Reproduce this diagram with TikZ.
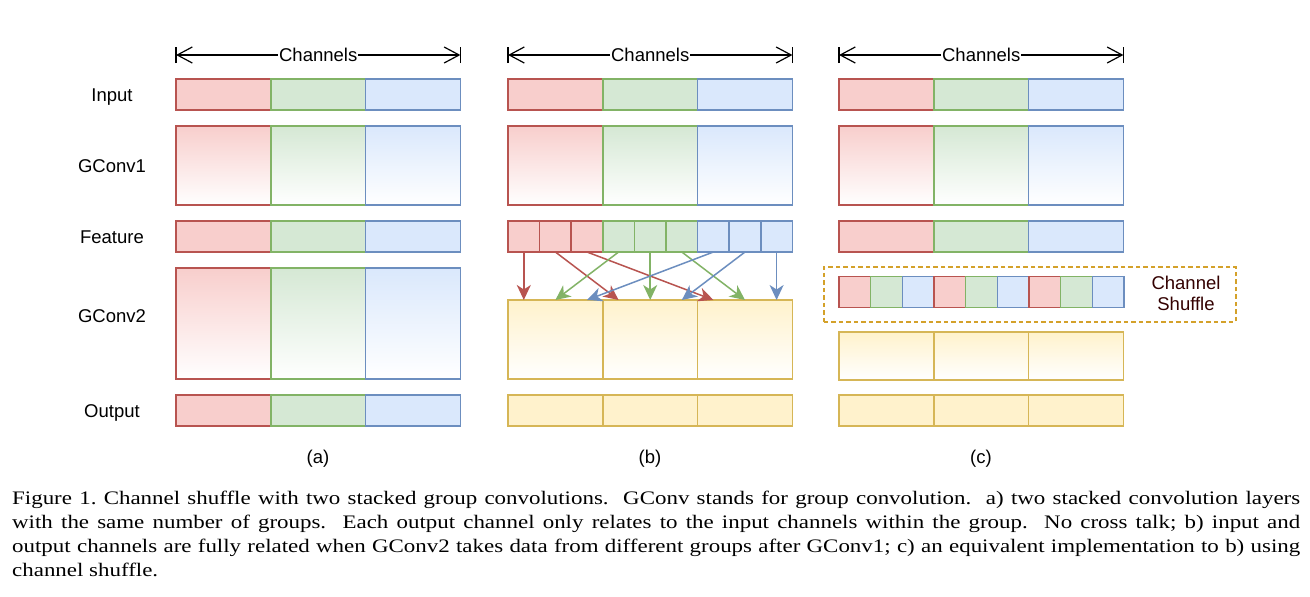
\documentclass[tikz,border=0pt]{standalone}
\usepackage{fontspec}
\setmainfont{Liberation Serif}
\newfontfamily\arialf{Liberation Sans}
\newfontfamily\capf[FakeStretch=1.2]{Liberation Serif}
\usetikzlibrary{arrows.meta}
\definecolor{rf}{HTML}{F8CECC}\definecolor{rd}{HTML}{B85450}
\definecolor{gf}{HTML}{D5E8D4}\definecolor{gd}{HTML}{82B366}
\definecolor{bf}{HTML}{DAE8FC}\definecolor{bd}{HTML}{6C8EBF}
\definecolor{yf}{HTML}{FFF2CC}\definecolor{yd}{HTML}{D6B656}
\definecolor{sd}{HTML}{D4A12A}\definecolor{st}{HTML}{330000}
\tikzset{
  cell/.style={draw,line width=1.5pt,inner sep=0pt,outer sep=0pt,anchor=north west,minimum width=94.8pt},
  kind/.style={fill=#1f,draw=#1d},
  kindg/.style={top color=#1f,bottom color=white,draw=#1d},
  lbl/.style={font=\arialf\fontsize{18.5}{22}\selectfont,inner sep=0pt},
  conn/.style={line width=1.5pt,-{Stealth[length=15pt,width=14pt,inset=4.5pt]}},
  dimline/.style={line width=1.2pt,{Straight Barb[length=15pt,width=16pt,line width=1.2pt]}-{Straight Barb[length=15pt,width=16pt,line width=1.2pt]}},
  capline/.style={anchor=base west,inner sep=0pt,font=\capf\frenchspacing\fontsize{19.1}{24}\selectfont}
}
\newcommand\rgbrow[5]{%
  \node[cell,#5=r,minimum height=#4pt] (#1-1) at (#2,#3) {};
  \node[cell,#5=g,minimum height=#4pt] (#1-2) at ({#2+94.8},#3) {};
  \node[cell,#5=b,minimum height=#4pt] (#1-3) at ({#2+189.6},#3) {};}
\newcommand\yelrow[5]{%
  \node[cell,#5=y,minimum height=#4pt] (#1-1) at (#2,#3) {};
  \node[cell,#5=y,minimum height=#4pt] (#1-2) at ({#2+94.8},#3) {};
  \node[cell,#5=y,minimum height=#4pt] (#1-3) at ({#2+189.6},#3) {};}
\begin{document}
\begin{tikzpicture}[x=1pt,y=-1pt]
\useasboundingbox[fill=white] (0,0) rectangle (1310,597);
% row labels
\node[lbl] (l-in) at (112,97) {Input};
\node[lbl] (l-g1) at (112,166) {GConv1};
\node[lbl] (l-fe) at (112,237) {Feature};
\node[lbl] (l-g2) at (112,316) {GConv2};
\node[lbl] (l-out) at (112,412.5) {Output};
% channel dimension lines
\foreach \p/\x in {a/176,b/508,c/839}{
  \coordinate (cl-\p) at (\x,55);
  \coordinate (cr-\p) at ({\x+284.4},55);
  \draw[dimline] (cl-\p) -- (cr-\p);
  \draw[line width=1.2pt] ([yshift=-8pt]cl-\p) -- ([yshift=8pt]cl-\p);
  \draw[line width=1.2pt] ([yshift=-8pt]cr-\p) -- ([yshift=8pt]cr-\p);
  \node[lbl,fill=white,inner xsep=1pt,inner ysep=2pt] (ch-\p) at ({\x+142.2},55) {Channels};
}
% panel (a)
\rgbrow{ain}{176}{79}{31}{kind}
\rgbrow{ag1}{176}{126}{79}{kindg}
\rgbrow{afe}{176}{221}{31}{kind}
\rgbrow{ag2}{176}{268}{111}{kindg}
\rgbrow{aout}{176}{395}{31}{kind}
% panel (b)
\rgbrow{bin}{508}{79}{31}{kind}
\rgbrow{bg1}{508}{126}{79}{kindg}
\foreach \s [count=\i from 0] in {r,r,r,g,g,g,b,b,b}
  \node[cell,kind=\s,minimum width=31.6pt,minimum height=31pt] (bf-\i) at ({508+31.6*\i},221) {};
\yelrow{bg2}{508}{300}{79}{kindg}
\yelrow{bout}{508}{395}{31}{kind}
\foreach \j in {0,...,8}
  \coordinate (t-\j) at (bf-\j.center |- bg2-1.north);
\foreach \i/\j/\c in {0/0/r,1/3/r,2/6/r,3/1/g,4/4/g,5/7/g,6/2/b,7/5/b,8/8/b}
  \draw[conn,draw=\c d] (bf-\i.south) -- (t-\j);
% panel (c)
\rgbrow{cin}{839}{79}{31}{kind}
\rgbrow{cg1}{839}{126}{79}{kindg}
\rgbrow{cfe}{839}{221}{31}{kind}
\node[draw=sd,dash pattern=on 4.5pt off 3pt,line width=1.5pt,inner sep=0pt,anchor=north west,
      minimum width=412pt,minimum height=55pt] (shbox) at (823,266) {};
\foreach \s [count=\i from 0] in {r,g,b,r,g,b,r,g,b}
  \node[cell,kind=\s,minimum width=31.67pt,minimum height=31pt] (cs-\i) at ({839+31.67*\i},276.5) {};
\node[lbl,text=st,align=center,font=\arialf\fontsize{18.5}{21.5}\selectfont] (shtxt) at (1186,293.5) {Channel\\Shuffle};
\yelrow{cg2}{839}{332}{48}{kindg}
\yelrow{cout}{839}{395}{31}{kind}
% panel captions
\node[lbl] (pa) at (318,459) {(a)};
\node[lbl] (pb) at (650,459) {(b)};
\node[lbl] (pc) at (981,459) {(c)};
% figure caption
\node[capline] (cap1) at (12,504) {\makebox[1288pt][s]{Figure 1. Channel shuffle with two stacked group convolutions.\ \ GConv stands for group convolution.\ \ a) two stacked convolution layers}};
\node[capline] (cap2) at (12,528) {\makebox[1288pt][s]{with the same number of groups.\ \ Each output channel only relates to the input channels within the group.\ \ No cross talk; b) input and}};
\node[capline] (cap3) at (12,552) {\makebox[1288pt][s]{output channels are fully related when GConv2 takes data from different groups after GConv1; c) an equivalent implementation to b) using}};
\node[capline] (cap4) at (12,576) {channel shuffle.};
\end{tikzpicture}
\end{document}
